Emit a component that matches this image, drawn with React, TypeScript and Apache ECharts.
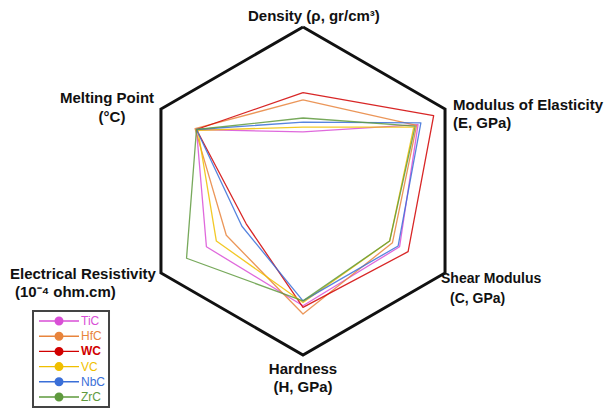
import React, { useEffect, useRef } from "react";
import * as echarts from "echarts";

// Indicators in ECharts radar order (counter-clockwise from top)
const indicators = [
  "Density",
  "Melting Point",
  "Electrical Resistivity",
  "Hardness",
  "Shear Modulus",
  "Modulus of Elasticity",
];

const seriesNames = ["TiC", "HfC", "WC", "VC", "NbC", "ZrC"];
const seriesColors = ["#d94fd6", "#e8843c", "#d10000", "#f0bf00", "#3a6fd8", "#5f9a3e"];

// normalised values (fraction of max), same order as indicators
const TiC = [0.36, 0.75, 0.68, 0.70, 0.68, 0.81];
const HfC = [0.555, 0.76, 0.54, 0.75, 0.63, 0.80];
const WC = [0.60, 0.75, 0.40, 0.71, 0.74, 0.92];
const VC = [0.39, 0.74, 0.61, 0.68, 0.61, 0.78];
const NbC = [0.42, 0.75, 0.43, 0.67, 0.67, 0.83];
const ZrC = [0.445, 0.75, 0.82, 0.67, 0.61, 0.79];
const values = [TiC, HfC, WC, VC, NbC, ZrC];

const legendIcon =
  "path://M0,4.3H40V5.7H0Z M15.5,5A4.5,4.5 0 1,1 24.5,5A4.5,4.5 0 1,1 15.5,5Z";

export default function App() {
  const ref = useRef<HTMLDivElement>(null);
  useEffect(() => {
    if (!ref.current) return;
    const chart = echarts.init(ref.current, null, { renderer: "svg" });
    const labelFont = {
      fontFamily: "Liberation Sans, Arial, sans-serif",
      fontWeight: "bold",
      fontSize: 15,
      fill: "#111",
    };
    const text = (x: number, y: number, t: string, align: string, size = 15) => ({
      type: "text",
      x,
      y,
      style: { ...labelFont, fontSize: size, text: t, textAlign: align, textVerticalAlign: "middle" },
    });
    chart.setOption({
      animation: false,
      backgroundColor: "#fff",
      radar: {
        center: [303, 191],
        radius: 164,
        shape: "polygon",
        splitNumber: 1,
        startAngle: 90,
        indicator: indicators.map((n) => ({ name: n, min: 0, max: 1 })),
        axisName: { show: false },
        axisLine: { show: false },
        axisTick: { show: false },
        axisLabel: { show: false },
        splitArea: { show: false },
        splitLine: { lineStyle: { color: "#111", width: 3 } },
      },
      legend: {
        orient: "vertical",
        left: 33,
        top: 311,
        padding: [4, 4, 4, 6],
        itemWidth: 40,
        itemHeight: 10,
        itemGap: 3.2,
        borderColor: "#444",
        borderWidth: 2,
        icon: legendIcon,
        textStyle: {
          fontFamily: "Liberation Sans, Arial, sans-serif",
          fontSize: 12,
          padding: [0, 0, 0, -3],
        },
        data: seriesNames.map((n, i) => ({
          name: n,
          textStyle: {
            color: seriesColors[i],
            fontWeight: n === "WC" ? "bold" : "normal",
          },
        })),
      },
      series: [
        {
          type: "radar",
          symbol: "none",
          data: seriesNames.map((n, i) => ({
            name: n,
            value: values[i],
            itemStyle: { color: seriesColors[i] },
            lineStyle: { color: seriesColors[i], width: 1.3, opacity: 0.85 },
          })),
        },
      ],
      graphic: [
        text(248, 15, "Density (ρ, gr/cm³)", "left"),
        text(453, 104, "Modulus of Elasticity", "left"),
        text(453, 122, "(E, GPa)", "left"),
        text(441, 278, "Shear Modulus", "left", 14),
        text(450, 298, "(C, GPa)", "left", 14),
        text(303, 368, "Hardness", "center"),
        text(303, 386, "(H, GPa)", "center"),
        text(10, 273, "Electrical Resistivity", "left"),
        text(15, 291, "(10⁻⁴ ohm.cm)", "left"),
        text(107, 97, "Melting Point", "center"),
        text(112, 116, "(°C)", "center"),
      ],
    });
    return () => chart.dispose();
  }, []);
  return (
    <div
      ref={ref}
      style={{ position: "absolute", left: 0, top: 0, width: 606, height: 411 }}
    />
  );
}
